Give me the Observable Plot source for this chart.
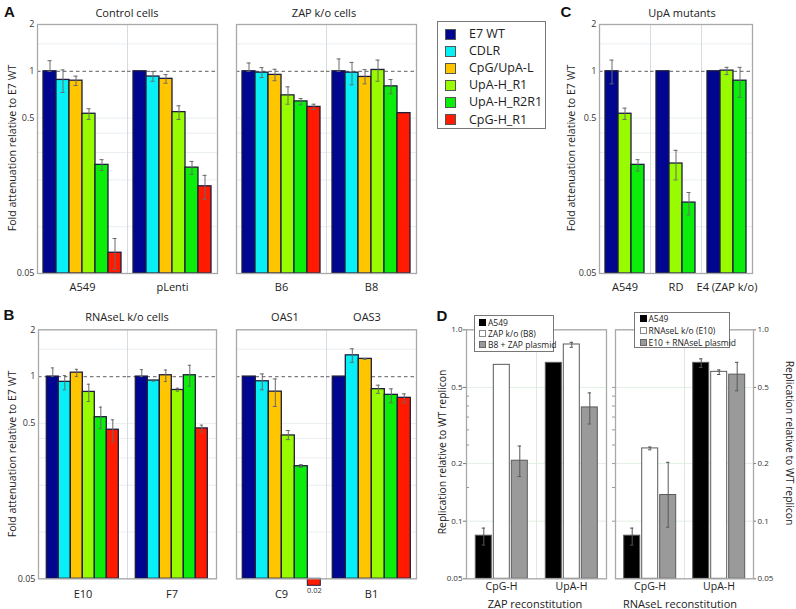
<!DOCTYPE html>
<html><head><meta charset="utf-8">
<script src="https://cdn.jsdelivr.net/npm/d3@7"></script>
<script src="https://cdn.jsdelivr.net/npm/@observablehq/plot@0.6"></script>
<style>
body{margin:0;background:#fff;}
#fig{position:relative;width:796px;height:609px;overflow:hidden;font-family:"Open Sans",sans-serif;color:#222;background:#fff;}
#fig svg{position:absolute;}
.t{position:absolute;white-space:nowrap;line-height:1;}
.c{transform:translate(-50%,-50%);}
.rl{transform:translate(-50%,-50%) rotate(-90deg);}
.rr{transform:translate(-50%,-50%) rotate(90deg);}
.let{font-family:"Liberation Sans",Arial,sans-serif;font-weight:bold;font-size:15px;color:#111;}
.lg{position:absolute;border:1px solid #777;background:#fff;box-sizing:border-box;}
.lg .sw{position:absolute;box-sizing:border-box;}
.lg .lt{position:absolute;white-space:nowrap;line-height:1;transform:translateY(-50%);}
</style></head><body><div id="fig"></div>
<script>
// ---------- data ----------
const seriesNames = ["E7 WT", "CDLR", "CpG/UpA-L", "UpA-H_R1", "UpA-H_R2R1", "CpG-H_R1"];
const seriesColors = ["#00068f", "#08f0f6", "#ffc600", "#99fb00", "#0aee0a", "#ff1a00"];

// A: Control cells
const controlGroups = ["A549", "pLenti"];
const controlValues = [[1.00, 0.88, 0.87, 0.533, 0.25, 0.068], [1.00, 0.925, 0.894, 0.546, 0.24, 0.182]];
const controlLow = [[1.00, 0.73, 0.81, 0.49, 0.23, 0.053], [null, 0.863, 0.838, 0.49, 0.217, 0.15]];
const controlHigh = [[1.17, 1.02, 0.93, 0.574, 0.27, 0.084], [null, 0.996, 0.952, 0.60, 0.263, 0.214]];

// A: ZAP k/o cells
const zapGroups = ["B6", "B8"];
const zapValues = [[1.00, 0.98, 0.948, 0.70, 0.64, 0.59], [1.00, 0.98, 0.92, 1.02, 0.80, 0.538]];
const zapLow = [[1.00, 0.911, 0.87, 0.614, 0.609, 0.568], [1.00, 0.818, 0.83, 0.863, 0.716, null]];
const zapHigh = [[1.13, 1.056, 1.03, 0.794, 0.668, 0.614], [1.20, 1.14, 1.025, 1.18, 0.885, null]];

// B: RNAseL k/o cells
const rnaselGroups = ["E10", "F7"];
const rnaselValues = [[1.00, 0.925, 1.06, 0.797, 0.548, 0.455], [1.00, 0.943, 1.02, 0.82, 1.02, 0.464]];
const rnaselLow = [[1.00, 0.822, 1.00, 0.691, 0.462, 0.379], [1.00, 0.934, 0.929, 0.805, 0.867, 0.44]];
const rnaselHigh = [[1.137, 1.015, 1.114, 0.893, 0.636, 0.527], [1.109, 0.956, 1.103, 0.842, 1.182, 0.487]];

// B: OAS1 / OAS3
const oasGroups = ["C9", "B1"];
const oasTitles = ["OAS1", "OAS3"];
const oasValues = [[1.00, 0.933, 0.80, 0.418, 0.265, 0.02], [1.00, 1.37, 1.30, 0.83, 0.763, 0.73]];
const oasLow = [[null, 0.822, 0.642, 0.393, 0.26, null], [null, 1.235, 1.29, 0.78, 0.678, 0.678]];
const oasHigh = [[null, 1.04, 0.966, 0.45, 0.271, null], [null, 1.51, 1.31, 0.88, 0.834, 0.774]];

// C: UpA mutants
const upaGroups = ["A549", "RD", "E4 (ZAP k/o)"];
const upaSeries = ["E7 WT", "UpA-H_R1", "UpA-H_R2R1"];
const upaValues = [[1.00, 0.533, 0.25], [1.00, 0.255, 0.143], [1.00, 1.01, 0.87]];
const upaLow = [[0.83, 0.49, 0.228], [null, 0.20, 0.119], [null, 0.952, 0.68]];
const upaHigh = [[1.18, 0.579, 0.27], [null, 0.31, 0.166], [null, 1.06, 1.06]];

const foldTicks = [2, 1, 0.5, 0.05];
const foldGrid = [1.5, 0.5, 0.4, 0.3, 0.2, 0.1];

// D: reconstitution
const reconGroups = ["CpG-H", "UpA-H"];
const zapReconSeries = ["A549", "ZAP k/o (B8)", "B8 + ZAP plasmid"];
const zapReconValues = [[0.084, 0.656, 0.207], [0.672, 0.838, 0.393]];
const zapReconLow = [[0.075, null, 0.171], [null, 0.81, 0.322]];
const zapReconHigh = [[0.092, null, 0.247], [null, 0.86, 0.468]];
const rnaselReconSeries = ["A549", "RNAseL k/o (E10)", "E10 + RNAseL plasmid"];
const rnaselReconValues = [[0.084, 0.24, 0.137], [0.672, 0.603, 0.583]];
const rnaselReconLow = [[0.075, 0.236, 0.093], [0.636, 0.584, 0.48]];
const rnaselReconHigh = [[0.092, 0.244, 0.203], [0.705, 0.617, 0.676]];
const reconColors = ["#000000", "#ffffff", "#9a9a9a"];
const reconTicks = [1, 0.5, 0.2, 0.1, 0.05];
const reconMinor = [0.45, 0.4, 0.35, 0.3, 0.25, 0.15];
const reconGrid = [0.5, 0.2, 0.1];

// ---------- helpers ----------
const fig = document.getElementById("fig");
function rows(groups, series, values, low, high) {
  return groups.flatMap((g, i) => series.map((s, j) => ({group: g, series: s, value: values[i][j], lo: low[i][j], hi: high[i][j]})));
}
function barPanel(o) {
  const data = rows(o.groups, o.series, o.values, o.low, o.high);
  const yMin = o.yDomain[0];
  const bars = data.filter(d => d.value >= yMin);
  const stubs = data.filter(d => d.value < yMin);
  const errs = data.filter(d => d.lo != null && d.hi != null);
  const marks = [
    Plot.ruleY(o.grid, {stroke: o.gridColor, strokeWidth: 1}),
    Plot.frame({stroke: o.sepColor, strokeWidth: 1})
  ];
  if (o.ref) marks.push(Plot.ruleY([o.ref], {stroke: "#7d7d7d", strokeWidth: 1.3, strokeDasharray: "3.5,3"}));
  marks.push(
    Plot.barY(bars, {fx: "group", x: "series", y1: yMin, y2: "value", fill: "series", stroke: o.barStroke, strokeWidth: o.barStrokeWidth}),
    Plot.barY(stubs, {fx: "group", x: "series", y1: yMin, y2: yMin, insetBottom: -7, fill: "series", stroke: o.barStroke, strokeWidth: 1}),
    Plot.text(stubs, {fx: "group", x: "series", y: yMin, text: d => String(d.value), dy: 12, fontSize: 7.5, fill: "#333"}),
    Plot.frame({facet: "super", stroke: o.frameColor, strokeWidth: 1.3}),
    Plot.ruleX(errs, {fx: "group", x: "series", y1: "lo", y2: "hi", stroke: o.errColor, strokeWidth: 1}),
    Plot.tickY(errs, {fx: "group", x: "series", y: "lo", stroke: o.errColor, strokeWidth: 1, insetLeft: o.cap, insetRight: o.cap}),
    Plot.tickY(errs, {fx: "group", x: "series", y: "hi", stroke: o.errColor, strokeWidth: 1, insetLeft: o.cap, insetRight: o.cap}),
    Plot.axisFx({anchor: "bottom", tickSize: 0, tickPadding: o.fxPad, fontSize: o.fxFont, label: null, fill: "#222"})
  );
  if (o.axes) marks.push(...o.axes);
  const svg = Plot.plot({
    width: o.width, height: o.height,
    marginLeft: o.m[3], marginRight: o.m[1], marginTop: o.m[0], marginBottom: o.m[2],
    style: {background: "transparent", fontFamily: "'Open Sans', sans-serif", fontSize: "9px", color: "#333", overflow: "visible"},
    fx: {domain: o.groups, padding: 0, label: null},
    x: {domain: o.series, axis: null, paddingInner: o.padIn, paddingOuter: o.padOut},
    y: {type: "log", domain: o.yDomain, axis: null},
    color: {domain: o.series, range: o.colors},
    marks
  });
  svg.style.left = o.left + "px";
  svg.style.top = o.top + "px";
  fig.appendChild(svg);
}
function addText(str, x, y, cls, size, extra) {
  const d = document.createElement("div");
  d.className = "t " + cls;
  d.style.left = x + "px"; d.style.top = y + "px";
  if (size) d.style.fontSize = size + "px";
  if (extra) Object.assign(d.style, extra);
  d.textContent = str;
  fig.appendChild(d);
}
function addLegend(x, y, w, h, names, fills, strokes, o) {
  const box = document.createElement("div");
  box.className = "lg";
  Object.assign(box.style, {left: x + "px", top: y + "px", width: w + "px", height: h + "px"});
  names.forEach((n, i) => {
    const cy = o.first + i * o.step;
    const sw = document.createElement("div");
    sw.className = "sw";
    Object.assign(sw.style, {left: o.swx + "px", top: (cy - o.sw / 2) + "px", width: o.sw + "px", height: o.sw + "px", background: fills[i], border: "1px solid " + strokes[i]});
    box.appendChild(sw);
    const t = document.createElement("div");
    t.className = "lt";
    Object.assign(t.style, {left: o.tx + "px", top: cy + "px", fontSize: o.font + "px"});
    t.textContent = n;
    box.appendChild(t);
  });
  fig.appendChild(box);
}

const foldAxis = Plot.axisY({ticks: foldTicks, tickFormat: d => String(d), tickSize: 0, tickPadding: 3, fontSize: 9, label: null, fill: "#333"});
const common = {series: seriesNames, colors: seriesColors, yDomain: [0.05, 2], grid: foldGrid, gridColor: "#e9eef0", ref: 1,
  barStroke: "#1d1d3c", barStrokeWidth: 1.3, frameColor: "#a9a9a9", sepColor: "#d3dde0", errColor: "#6a6a6a", cap: 4.5, padIn: 0, padOut: 0.46, fxFont: 11};

// A
barPanel({...common, groups: controlGroups, values: controlValues, low: controlLow, high: controlHigh,
  left: 0, top: 0, width: 222, height: 300, m: [24, 5, 27, 37], fxPad: 10, axes: [foldAxis]});
barPanel({...common, groups: zapGroups, values: zapValues, low: zapLow, high: zapHigh,
  left: 200, top: 0, width: 220, height: 300, m: [24, 4, 27, 36], fxPad: 10});
// B
barPanel({...common, groups: rnaselGroups, values: rnaselValues, low: rnaselLow, high: rnaselHigh,
  left: 0, top: 290, width: 222, height: 319, m: [39.3, 5, 30.7, 37.7], fxPad: 11, axes: [foldAxis]});
barPanel({...common, groups: oasGroups, values: oasValues, low: oasLow, high: oasHigh,
  left: 200, top: 290, width: 220, height: 319, m: [39.3, 4, 30.7, 35.7], fxPad: 11});
// C
barPanel({...common, series: upaSeries, colors: upaSeries.map(s => seriesColors[seriesNames.indexOf(s)]),
  groups: upaGroups, values: upaValues, low: upaLow, high: upaHigh,
  left: 560, top: 0, width: 200, height: 300, m: [24, 8, 27, 38], fxPad: 10, axes: [foldAxis]});
// D
const reconCommon = {colors: reconColors, yDomain: [0.05, 1], grid: reconGrid, gridColor: "#e3efe3", ref: null,
  barStroke: "#5a5a5a", barStrokeWidth: 1, frameColor: "#a9a9a9", sepColor: "#dfe8e4", errColor: "#505a55", cap: 6.3, padIn: 0.1, padOut: 0.45, fxFont: 10.5, fxPad: 4};
const reconFormat = d => d === 1 ? "1.0" : String(d);
barPanel({...reconCommon, groups: reconGroups, series: zapReconSeries, values: zapReconValues, low: zapReconLow, high: zapReconHigh,
  left: 420, top: 300, width: 190, height: 309, m: [29.3, 4.3, 30.7, 45.7],
  axes: [Plot.axisY({ticks: reconTicks, tickFormat: reconFormat, tickSize: 3, tickPadding: 1, fontSize: 8, label: null, fill: "#333", stroke: "#777"}),
         Plot.axisY({ticks: reconMinor, tickSize: -3, text: null, label: null, stroke: "#999"})]});
barPanel({...reconCommon, groups: reconGroups, series: rnaselReconSeries, values: rnaselReconValues, low: rnaselReconLow, high: rnaselReconHigh,
  left: 600, top: 300, width: 196, height: 309, m: [29.3, 42.7, 30.7, 14.3],
  axes: [Plot.axisY({anchor: "right", ticks: reconTicks, tickFormat: reconFormat, tickSize: 2, tickPadding: 2, fontSize: 8, label: null, fill: "#333", stroke: "#777"}),
         Plot.axisY({anchor: "left", ticks: reconMinor.concat([0.5, 0.2, 0.1]), tickSize: 3, text: null, label: null, stroke: "#999"})]});

// ---------- texts ----------
addText("A", 9.5, 11, "c let");
addText("B", 9, 314, "c let");
addText("C", 566, 11, "c let");
addText("D", 442, 315, "c let");
addText("Control cells", 127, 12, "c", 11);
addText("ZAP k/o cells", 324, 12, "c", 11);
addText("UpA mutants", 682, 12, "c", 11);
addText("RNAseL k/o cells", 127, 316, "c", 11);
addText(oasTitles[0], 285, 316, "c", 11);
addText(oasTitles[1], 367, 316, "c", 11);
addText("Fold attenuation relative to E7 WT", 12, 148, "rl", 10.6);
addText("Fold attenuation relative to E7 WT", 12, 454, "rl", 10.6);
addText("Fold attenuation relative to E7 WT", 571, 148, "rl", 10.6);
addText("Replication relative to WT replicon", 442, 452, "rl", 10.4);
addText("Replication relative to WT replicon", 790, 443, "rr", 10.4);
addText("ZAP reconstitution", 535, 603, "c", 11);
addText("RNAseL reconstitution", 680, 603, "c", 11);

// legends
addLegend(437, 21, 109, 108, seriesNames, seriesColors, seriesNames.map(() => "#555"),
  {first: 12, step: 17.1, swx: 7, sw: 11, tx: 31, font: 12.5});
addLegend(474, 315, 80, 37, zapReconSeries, reconColors, ["#000", "#888", "#666"],
  {first: 6.5, step: 11.2, swx: 3.5, sw: 7, tx: 13, font: 8.5});
addLegend(634, 312, 96, 36, rnaselReconSeries, reconColors, ["#000", "#888", "#666"],
  {first: 5.5, step: 12.2, swx: 4.5, sw: 7, tx: 13.5, font: 8.5});
</script>
</body></html>
